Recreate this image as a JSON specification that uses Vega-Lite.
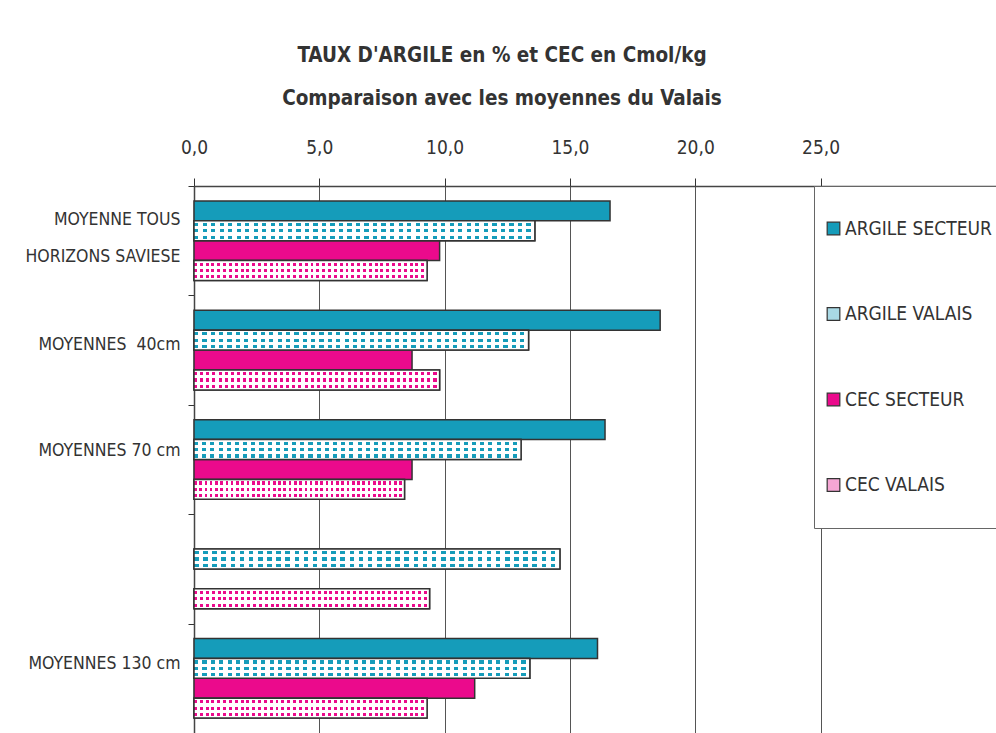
{
  "$schema": "https://vega.github.io/schema/vega-lite/v6.json",
  "autosize": {"type": "none"},
  "padding": {"left": 194, "top": 186, "right": 0, "bottom": 0},
  "width": 802,
  "height": 547,
  "background": "white",
  "title": {
    "text": ["TAUX D'ARGILE en % et CEC en Cmol/kg", "Comparaison avec les moyennes du Valais"],
    "font": "DejaVu Sans Condensed, sans-serif",
    "fontSize": 20.5,
    "fontWeight": "bold",
    "color": "#333333",
    "lineHeight": 43,
    "anchor": "middle",
    "frame": "group",
    "dx": -93,
    "offset": 29
  },
  "data": {
    "values": [
      {"groupe": "MOYENNE TOUS HORIZONS SAVIESE", "serie": "ARGILE SECTEUR", "valeur": 16.6},
      {"groupe": "MOYENNE TOUS HORIZONS SAVIESE", "serie": "ARGILE VALAIS", "valeur": 13.6},
      {"groupe": "MOYENNE TOUS HORIZONS SAVIESE", "serie": "CEC SECTEUR", "valeur": 9.8},
      {"groupe": "MOYENNE TOUS HORIZONS SAVIESE", "serie": "CEC VALAIS", "valeur": 9.3},
      {"groupe": "MOYENNES  40cm", "serie": "ARGILE SECTEUR", "valeur": 18.6},
      {"groupe": "MOYENNES  40cm", "serie": "ARGILE VALAIS", "valeur": 13.35},
      {"groupe": "MOYENNES  40cm", "serie": "CEC SECTEUR", "valeur": 8.7},
      {"groupe": "MOYENNES  40cm", "serie": "CEC VALAIS", "valeur": 9.8},
      {"groupe": "MOYENNES 70 cm", "serie": "ARGILE SECTEUR", "valeur": 16.4},
      {"groupe": "MOYENNES 70 cm", "serie": "ARGILE VALAIS", "valeur": 13.05},
      {"groupe": "MOYENNES 70 cm", "serie": "CEC SECTEUR", "valeur": 8.7},
      {"groupe": "MOYENNES 70 cm", "serie": "CEC VALAIS", "valeur": 8.4},
      {"groupe": "", "serie": "ARGILE VALAIS", "valeur": 14.6},
      {"groupe": "", "serie": "CEC VALAIS", "valeur": 9.4},
      {"groupe": "MOYENNES 130 cm", "serie": "ARGILE SECTEUR", "valeur": 16.1},
      {"groupe": "MOYENNES 130 cm", "serie": "ARGILE VALAIS", "valeur": 13.4},
      {"groupe": "MOYENNES 130 cm", "serie": "CEC SECTEUR", "valeur": 11.2},
      {"groupe": "MOYENNES 130 cm", "serie": "CEC VALAIS", "valeur": 9.3}
    ]
  },
  "encoding": {
    "y": {
      "field": "groupe",
      "type": "nominal",
      "sort": ["MOYENNE TOUS HORIZONS SAVIESE", "MOYENNES  40cm", "MOYENNES 70 cm", "", "MOYENNES 130 cm"],
      "scale": {"domain": ["MOYENNE TOUS HORIZONS SAVIESE", "MOYENNES  40cm", "MOYENNES 70 cm", "", "MOYENNES 130 cm"], "paddingInner": 0, "paddingOuter": 0},
      "axis": {
        "title": null,
        "orient": "left",
        "tickBand": "extent",
        "tickSize": 6,
        "tickColor": "#333333",
        "domainColor": "#444444",
        "domainWidth": 1.5,
        "labelPadding": 8,
        "labelOffset": {
          "condition": [
            {"test": "datum.value == 'MOYENNE TOUS HORIZONS SAVIESE'", "value": -21},
            {"test": "datum.value == 'MOYENNES  40cm'", "value": -6},
            {"test": "datum.value == 'MOYENNES 130 cm'", "value": -15}
          ],
          "value": -9
        },
        "labelFont": "DejaVu Sans Condensed, sans-serif",
        "labelFontSize": 17.5,
        "labelColor": "#333333",
        "labelLineHeight": 37,
        "labelLimit": 300,
        "labelExpr": "datum.value == null ? '' : datum.value == 'MOYENNE TOUS HORIZONS SAVIESE' ? ['MOYENNE TOUS', 'HORIZONS SAVIESE'] : replace(datum.value, '  ', ' \u00a0')",
        "grid": false
      }
    },
    "yOffset": {
      "field": "serie",
      "type": "nominal",
      "sort": ["ARGILE SECTEUR", "ARGILE VALAIS", "CEC SECTEUR", "CEC VALAIS"],
      "scale": {"domain": ["ARGILE SECTEUR", "ARGILE VALAIS", "CEC SECTEUR", "CEC VALAIS"], "paddingInner": 0, "paddingOuter": 0.75}
    },
    "x": {
      "field": "valeur",
      "type": "quantitative",
      "scale": {"domain": [0, 32], "nice": false, "zero": true},
      "axis": {
        "title": null,
        "orient": "top",
        "values": [0, 5, 10, 15, 20, 25],
        "labelExpr": "replace(format(datum.value, '.1f'), '.', ',')",
        "labelFont": "DejaVu Sans Condensed, sans-serif",
        "labelFontSize": 19,
        "labelColor": "#333333",
        "labelPadding": 21,
        "labelFlush": false,
        "tickSize": 8,
        "tickColor": "#333333",
        "domainColor": "#444444",
        "domainWidth": 1.5,
        "grid": true,
        "gridColor": "#555555",
        "gridWidth": 1
      }
    }
  },
  "layer": [
    {
      "mark": {"type": "bar", "stroke": "#333333", "strokeWidth": 1.5, "opacity": 1},
      "encoding": {
        "fill": {
          "field": "serie",
          "type": "nominal",
          "sort": ["ARGILE SECTEUR", "ARGILE VALAIS", "CEC SECTEUR", "CEC VALAIS"],
          "scale": {"domain": ["ARGILE SECTEUR", "ARGILE VALAIS", "CEC SECTEUR", "CEC VALAIS"], "range": ["#159CBA", "#a9d9e5", "#EB0A8C", "#f5a6d4"]},
          "legend": {
            "title": null,
            "orient": "none",
            "legendX": 620,
            "legendY": 0,
            "direction": "vertical",
            "fillColor": "white",
            "strokeColor": "#666666",
            "padding": 33,
            "symbolOffset": -23,
            "symbolType": "square",
            "symbolSize": 160,
            "symbolStrokeColor": "#333333",
            "symbolStrokeWidth": 1.2,
            "labelFont": "DejaVu Sans Condensed, sans-serif",
            "labelFontSize": 19,
            "labelColor": "#333333",
            "labelOffset": 2,
            "labelLimit": 300,
            "rowPadding": 65.5,
            "offset": 0
          }
        }
      }
    },
    {
      "transform": [{"filter": "datum.serie == 'ARGILE VALAIS'"}],
      "mark": {
        "type": "bar",
        "strokeWidth": 0,
        "fill": {
          "gradient": "linear", "x1": 0, "y1": 0, "x2": 0, "y2": 1,
          "stops": [
            {"offset": 0, "color": "#ffffff"}, {"offset": 0.1, "color": "#ffffff"},
            {"offset": 0.1, "color": "#159CBA"}, {"offset": 0.26, "color": "#159CBA"},
            {"offset": 0.26, "color": "#ffffff"}, {"offset": 0.42, "color": "#ffffff"},
            {"offset": 0.42, "color": "#159CBA"}, {"offset": 0.58, "color": "#159CBA"},
            {"offset": 0.58, "color": "#ffffff"}, {"offset": 0.74, "color": "#ffffff"},
            {"offset": 0.74, "color": "#159CBA"}, {"offset": 0.9, "color": "#159CBA"},
            {"offset": 0.9, "color": "#ffffff"}, {"offset": 1, "color": "#ffffff"}
          ]
        }
      }
    },
    {
      "transform": [{"filter": "datum.serie == 'CEC VALAIS'"}],
      "mark": {
        "type": "bar",
        "strokeWidth": 0,
        "fill": {
          "gradient": "linear", "x1": 0, "y1": 0, "x2": 0, "y2": 1,
          "stops": [
            {"offset": 0, "color": "#ffffff"}, {"offset": 0.1, "color": "#ffffff"},
            {"offset": 0.1, "color": "#EB0A8C"}, {"offset": 0.26, "color": "#EB0A8C"},
            {"offset": 0.26, "color": "#ffffff"}, {"offset": 0.42, "color": "#ffffff"},
            {"offset": 0.42, "color": "#EB0A8C"}, {"offset": 0.58, "color": "#EB0A8C"},
            {"offset": 0.58, "color": "#ffffff"}, {"offset": 0.74, "color": "#ffffff"},
            {"offset": 0.74, "color": "#EB0A8C"}, {"offset": 0.9, "color": "#EB0A8C"},
            {"offset": 0.9, "color": "#ffffff"}, {"offset": 1, "color": "#ffffff"}
          ]
        }
      }
    },
    {
      "transform": [{"filter": "datum.serie == 'ARGILE VALAIS' || datum.serie == 'CEC VALAIS'"}],
      "mark": {
        "type": "bar",
        "stroke": "#333333",
        "strokeWidth": 1.5,
        "fill": {
          "gradient": "linear", "x1": 0, "y1": 0, "x2": 1, "y2": 0,
          "stops": [
            {"offset": 0, "color": "rgba(255,255,255,0)"}, {"offset": 0.0125, "color": "rgba(255,255,255,0)"},
            {"offset": 0.0125, "color": "#ffffff"}, {"offset": 0.025, "color": "#ffffff"},
            {"offset": 0.025, "color": "rgba(255,255,255,0)"}, {"offset": 0.0375, "color": "rgba(255,255,255,0)"},
            {"offset": 0.0375, "color": "#ffffff"}, {"offset": 0.05, "color": "#ffffff"},
            {"offset": 0.05, "color": "rgba(255,255,255,0)"}, {"offset": 0.0625, "color": "rgba(255,255,255,0)"},
            {"offset": 0.0625, "color": "#ffffff"}, {"offset": 0.075, "color": "#ffffff"},
            {"offset": 0.075, "color": "rgba(255,255,255,0)"}, {"offset": 0.0875, "color": "rgba(255,255,255,0)"},
            {"offset": 0.0875, "color": "#ffffff"}, {"offset": 0.1, "color": "#ffffff"},
            {"offset": 0.1, "color": "rgba(255,255,255,0)"}, {"offset": 0.1125, "color": "rgba(255,255,255,0)"},
            {"offset": 0.1125, "color": "#ffffff"}, {"offset": 0.125, "color": "#ffffff"},
            {"offset": 0.125, "color": "rgba(255,255,255,0)"}, {"offset": 0.1375, "color": "rgba(255,255,255,0)"},
            {"offset": 0.1375, "color": "#ffffff"}, {"offset": 0.15, "color": "#ffffff"},
            {"offset": 0.15, "color": "rgba(255,255,255,0)"}, {"offset": 0.1625, "color": "rgba(255,255,255,0)"},
            {"offset": 0.1625, "color": "#ffffff"}, {"offset": 0.175, "color": "#ffffff"},
            {"offset": 0.175, "color": "rgba(255,255,255,0)"}, {"offset": 0.1875, "color": "rgba(255,255,255,0)"},
            {"offset": 0.1875, "color": "#ffffff"}, {"offset": 0.2, "color": "#ffffff"},
            {"offset": 0.2, "color": "rgba(255,255,255,0)"}, {"offset": 0.2125, "color": "rgba(255,255,255,0)"},
            {"offset": 0.2125, "color": "#ffffff"}, {"offset": 0.225, "color": "#ffffff"},
            {"offset": 0.225, "color": "rgba(255,255,255,0)"}, {"offset": 0.2375, "color": "rgba(255,255,255,0)"},
            {"offset": 0.2375, "color": "#ffffff"}, {"offset": 0.25, "color": "#ffffff"},
            {"offset": 0.25, "color": "rgba(255,255,255,0)"}, {"offset": 0.2625, "color": "rgba(255,255,255,0)"},
            {"offset": 0.2625, "color": "#ffffff"}, {"offset": 0.275, "color": "#ffffff"},
            {"offset": 0.275, "color": "rgba(255,255,255,0)"}, {"offset": 0.2875, "color": "rgba(255,255,255,0)"},
            {"offset": 0.2875, "color": "#ffffff"}, {"offset": 0.3, "color": "#ffffff"},
            {"offset": 0.3, "color": "rgba(255,255,255,0)"}, {"offset": 0.3125, "color": "rgba(255,255,255,0)"},
            {"offset": 0.3125, "color": "#ffffff"}, {"offset": 0.325, "color": "#ffffff"},
            {"offset": 0.325, "color": "rgba(255,255,255,0)"}, {"offset": 0.3375, "color": "rgba(255,255,255,0)"},
            {"offset": 0.3375, "color": "#ffffff"}, {"offset": 0.35, "color": "#ffffff"},
            {"offset": 0.35, "color": "rgba(255,255,255,0)"}, {"offset": 0.3625, "color": "rgba(255,255,255,0)"},
            {"offset": 0.3625, "color": "#ffffff"}, {"offset": 0.375, "color": "#ffffff"},
            {"offset": 0.375, "color": "rgba(255,255,255,0)"}, {"offset": 0.3875, "color": "rgba(255,255,255,0)"},
            {"offset": 0.3875, "color": "#ffffff"}, {"offset": 0.4, "color": "#ffffff"},
            {"offset": 0.4, "color": "rgba(255,255,255,0)"}, {"offset": 0.4125, "color": "rgba(255,255,255,0)"},
            {"offset": 0.4125, "color": "#ffffff"}, {"offset": 0.425, "color": "#ffffff"},
            {"offset": 0.425, "color": "rgba(255,255,255,0)"}, {"offset": 0.4375, "color": "rgba(255,255,255,0)"},
            {"offset": 0.4375, "color": "#ffffff"}, {"offset": 0.45, "color": "#ffffff"},
            {"offset": 0.45, "color": "rgba(255,255,255,0)"}, {"offset": 0.4625, "color": "rgba(255,255,255,0)"},
            {"offset": 0.4625, "color": "#ffffff"}, {"offset": 0.475, "color": "#ffffff"},
            {"offset": 0.475, "color": "rgba(255,255,255,0)"}, {"offset": 0.4875, "color": "rgba(255,255,255,0)"},
            {"offset": 0.4875, "color": "#ffffff"}, {"offset": 0.5, "color": "#ffffff"},
            {"offset": 0.5, "color": "rgba(255,255,255,0)"}, {"offset": 0.5125, "color": "rgba(255,255,255,0)"},
            {"offset": 0.5125, "color": "#ffffff"}, {"offset": 0.525, "color": "#ffffff"},
            {"offset": 0.525, "color": "rgba(255,255,255,0)"}, {"offset": 0.5375, "color": "rgba(255,255,255,0)"},
            {"offset": 0.5375, "color": "#ffffff"}, {"offset": 0.55, "color": "#ffffff"},
            {"offset": 0.55, "color": "rgba(255,255,255,0)"}, {"offset": 0.5625, "color": "rgba(255,255,255,0)"},
            {"offset": 0.5625, "color": "#ffffff"}, {"offset": 0.575, "color": "#ffffff"},
            {"offset": 0.575, "color": "rgba(255,255,255,0)"}, {"offset": 0.5875, "color": "rgba(255,255,255,0)"},
            {"offset": 0.5875, "color": "#ffffff"}, {"offset": 0.6, "color": "#ffffff"},
            {"offset": 0.6, "color": "rgba(255,255,255,0)"}, {"offset": 0.6125, "color": "rgba(255,255,255,0)"},
            {"offset": 0.6125, "color": "#ffffff"}, {"offset": 0.625, "color": "#ffffff"},
            {"offset": 0.625, "color": "rgba(255,255,255,0)"}, {"offset": 0.6375, "color": "rgba(255,255,255,0)"},
            {"offset": 0.6375, "color": "#ffffff"}, {"offset": 0.65, "color": "#ffffff"},
            {"offset": 0.65, "color": "rgba(255,255,255,0)"}, {"offset": 0.6625, "color": "rgba(255,255,255,0)"},
            {"offset": 0.6625, "color": "#ffffff"}, {"offset": 0.675, "color": "#ffffff"},
            {"offset": 0.675, "color": "rgba(255,255,255,0)"}, {"offset": 0.6875, "color": "rgba(255,255,255,0)"},
            {"offset": 0.6875, "color": "#ffffff"}, {"offset": 0.7, "color": "#ffffff"},
            {"offset": 0.7, "color": "rgba(255,255,255,0)"}, {"offset": 0.7125, "color": "rgba(255,255,255,0)"},
            {"offset": 0.7125, "color": "#ffffff"}, {"offset": 0.725, "color": "#ffffff"},
            {"offset": 0.725, "color": "rgba(255,255,255,0)"}, {"offset": 0.7375, "color": "rgba(255,255,255,0)"},
            {"offset": 0.7375, "color": "#ffffff"}, {"offset": 0.75, "color": "#ffffff"},
            {"offset": 0.75, "color": "rgba(255,255,255,0)"}, {"offset": 0.7625, "color": "rgba(255,255,255,0)"},
            {"offset": 0.7625, "color": "#ffffff"}, {"offset": 0.775, "color": "#ffffff"},
            {"offset": 0.775, "color": "rgba(255,255,255,0)"}, {"offset": 0.7875, "color": "rgba(255,255,255,0)"},
            {"offset": 0.7875, "color": "#ffffff"}, {"offset": 0.8, "color": "#ffffff"},
            {"offset": 0.8, "color": "rgba(255,255,255,0)"}, {"offset": 0.8125, "color": "rgba(255,255,255,0)"},
            {"offset": 0.8125, "color": "#ffffff"}, {"offset": 0.825, "color": "#ffffff"},
            {"offset": 0.825, "color": "rgba(255,255,255,0)"}, {"offset": 0.8375, "color": "rgba(255,255,255,0)"},
            {"offset": 0.8375, "color": "#ffffff"}, {"offset": 0.85, "color": "#ffffff"},
            {"offset": 0.85, "color": "rgba(255,255,255,0)"}, {"offset": 0.8625, "color": "rgba(255,255,255,0)"},
            {"offset": 0.8625, "color": "#ffffff"}, {"offset": 0.875, "color": "#ffffff"},
            {"offset": 0.875, "color": "rgba(255,255,255,0)"}, {"offset": 0.8875, "color": "rgba(255,255,255,0)"},
            {"offset": 0.8875, "color": "#ffffff"}, {"offset": 0.9, "color": "#ffffff"},
            {"offset": 0.9, "color": "rgba(255,255,255,0)"}, {"offset": 0.9125, "color": "rgba(255,255,255,0)"},
            {"offset": 0.9125, "color": "#ffffff"}, {"offset": 0.925, "color": "#ffffff"},
            {"offset": 0.925, "color": "rgba(255,255,255,0)"}, {"offset": 0.9375, "color": "rgba(255,255,255,0)"},
            {"offset": 0.9375, "color": "#ffffff"}, {"offset": 0.95, "color": "#ffffff"},
            {"offset": 0.95, "color": "rgba(255,255,255,0)"}, {"offset": 0.9625, "color": "rgba(255,255,255,0)"},
            {"offset": 0.9625, "color": "#ffffff"}, {"offset": 0.975, "color": "#ffffff"},
            {"offset": 0.975, "color": "rgba(255,255,255,0)"}, {"offset": 0.9875, "color": "rgba(255,255,255,0)"},
            {"offset": 0.9875, "color": "#ffffff"}, {"offset": 1, "color": "#ffffff"}
          ]
        }
      }
    }
  ],
  "config": {
    "view": {"stroke": null}
  }
}
